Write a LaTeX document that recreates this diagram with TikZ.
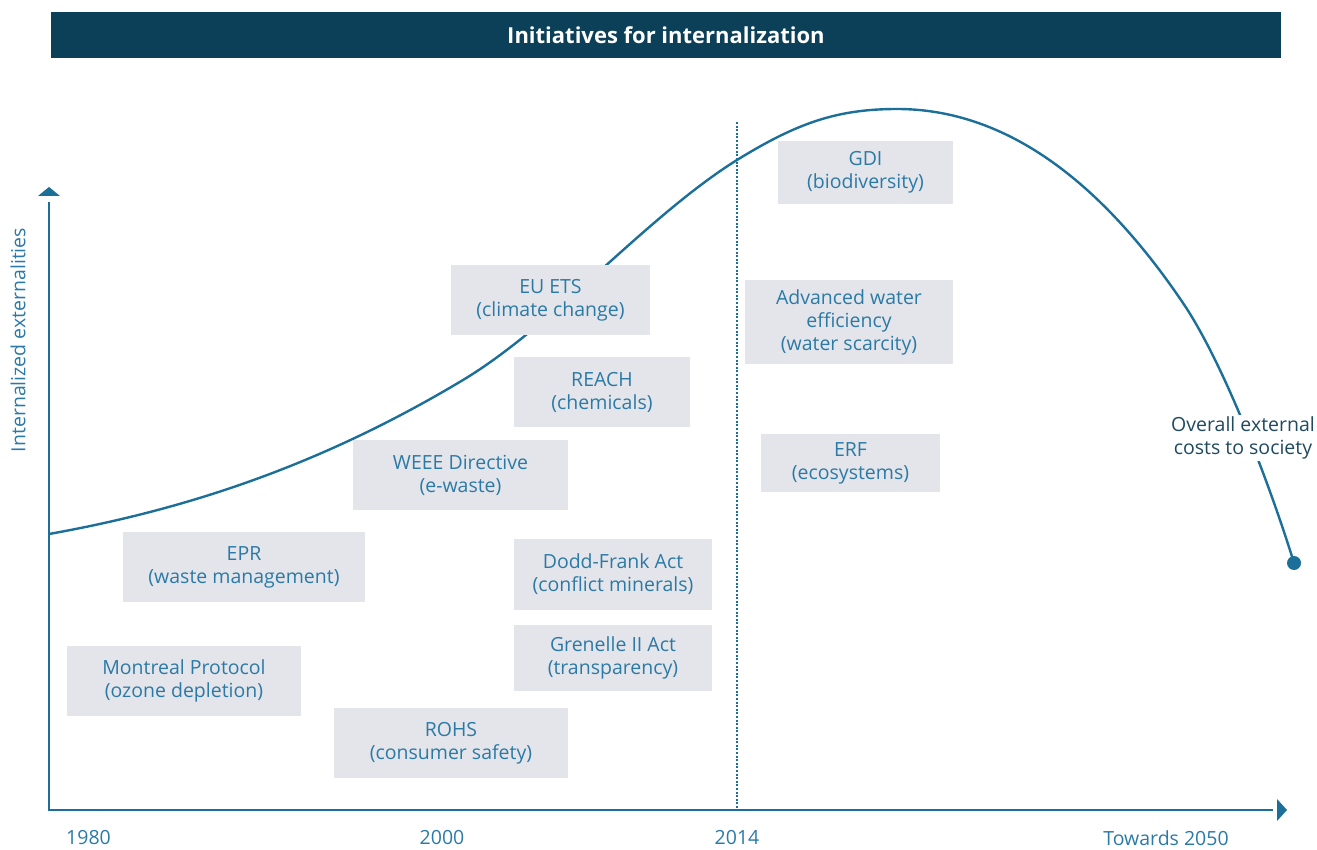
\documentclass[tikz,border=0pt]{standalone}
\usepackage{fontspec}
\setmainfont{Open Sans}
\usepackage{tikz}
\definecolor{titlebar}{HTML}{0B4058}
\definecolor{axisblue}{HTML}{1B6F98}
\definecolor{boxgrey}{HTML}{E4E5EA}
\definecolor{labelblue}{HTML}{2B7AA6}
\definecolor{darkteal}{HTML}{1F4A5F}
\tikzstyle{initiative}=[fill=boxgrey,text=labelblue,align=center,inner sep=0pt,font=\fontsize{19.5}{23}\selectfont]
\tikzstyle{year}=[text=labelblue,font=\fontsize{19.5}{23}\selectfont]
\tikzstyle{axisline}=[draw=axisblue,line width=2.8pt]

\begin{document}
\begin{tikzpicture}[x=1pt,y=-1pt]
      \useasboundingbox (0,0) rectangle (1317,850);

      \node[fill=titlebar,text=white,minimum width=1230,minimum height=46,inner sep=0pt,
        font=\fontsize{22}{26}\selectfont\bfseries] (title) at (666,35) {Initiatives for internalization};

      \coordinate (O) at (49,810);
      \coordinate (ytop) at (49,202);
      \coordinate (xend) at (1273,810);
      \coordinate (ytip) at (49,187);
      \coordinate (xtip) at (1287,810);
      \coordinate (now) at (737,122);
      \coordinate (nowbase) at (737,810);

      \draw[axisline] (ytop) -- (O) -- (xend);
      \fill[axisblue] (ytip) -- ++(-11,9) -- ++(22,0) -- cycle;
      \fill[axisblue] (xtip) -- ++(-10,-11) -- ++(0,22) -- cycle;
      \draw[axisblue,line width=2.6pt,dash pattern=on 2pt off 1.6pt] (now) -- (nowbase);

      \coordinate (c0) at (49,534);
      \coordinate (c1) at (463,380);
      \coordinate (c2) at (737,160);
      \coordinate (peak) at (897,109);
      \coordinate (c3) at (1183,303);
      \coordinate (c4) at (1294,563);
      \draw[axisblue,line width=2.4pt] (c0)
        .. controls (189,509) and (323,464) .. (c1)
        .. controls (553,326) and (647,216) .. (c2)
        .. controls (797,123) and (837,109) .. (peak)
        .. controls (997,109) and (1093,170) .. (c3)
        .. controls (1223,362) and (1269,482) .. (c4);
      \node[circle,fill=axisblue,inner sep=0pt,minimum size=14] (costend) at (c4) {};

      \node[fill=white,text=darkteal,align=center,inner sep=2pt,font=\fontsize{19.5}{23}\selectfont]
        (overall) at (1243,438) {Overall external\\costs to society};

      \node[initiative,minimum width=175,minimum height=63] (gdi) at (865.5,172.5) {GDI\\(biodiversity)};
      \node[initiative,minimum width=199,minimum height=70] (euets) at (550.5,300) {EU ETS\\(climate change)};
      \node[initiative,minimum width=208,minimum height=84] (water) at (849,322) {Advanced water\\efficiency\\(water scarcity)};
      \node[initiative,minimum width=176,minimum height=70] (reach) at (602,392) {REACH\\(chemicals)};
      \node[initiative,minimum width=215,minimum height=70] (weee) at (460.5,475) {WEEE Directive\\(e-waste)};
      \node[initiative,minimum width=179,minimum height=58] (erf) at (850.5,463) {ERF\\(ecosystems)};
      \node[initiative,minimum width=242,minimum height=70] (epr) at (244,567) {EPR\\(waste management)};
      \node[initiative,minimum width=198,minimum height=71] (dodd) at (613,574.5) {Dodd-Frank Act\\(conflict minerals)};
      \node[initiative,minimum width=198,minimum height=66] (grenelle) at (613,658) {Grenelle II Act\\(transparency)};
      \node[initiative,minimum width=234,minimum height=70] (montreal) at (184,681) {Montreal Protocol\\(ozone depletion)};
      \node[initiative,minimum width=234,minimum height=70] (rohs) at (451,743) {ROHS\\(consumer safety)};

      \node[year] (y1980) at (88.5,838) {1980};
      \node[year] (y2000) at (442,838) {2000};
      \node[year] (y2014) at (737,838) {2014};
      \node[year] (y2050) at (1166,838) {Towards 2050};

      \node[year,rotate=90] (ylabel) at (18,340) {Internalized externalities};
\end{tikzpicture}
\end{document}
